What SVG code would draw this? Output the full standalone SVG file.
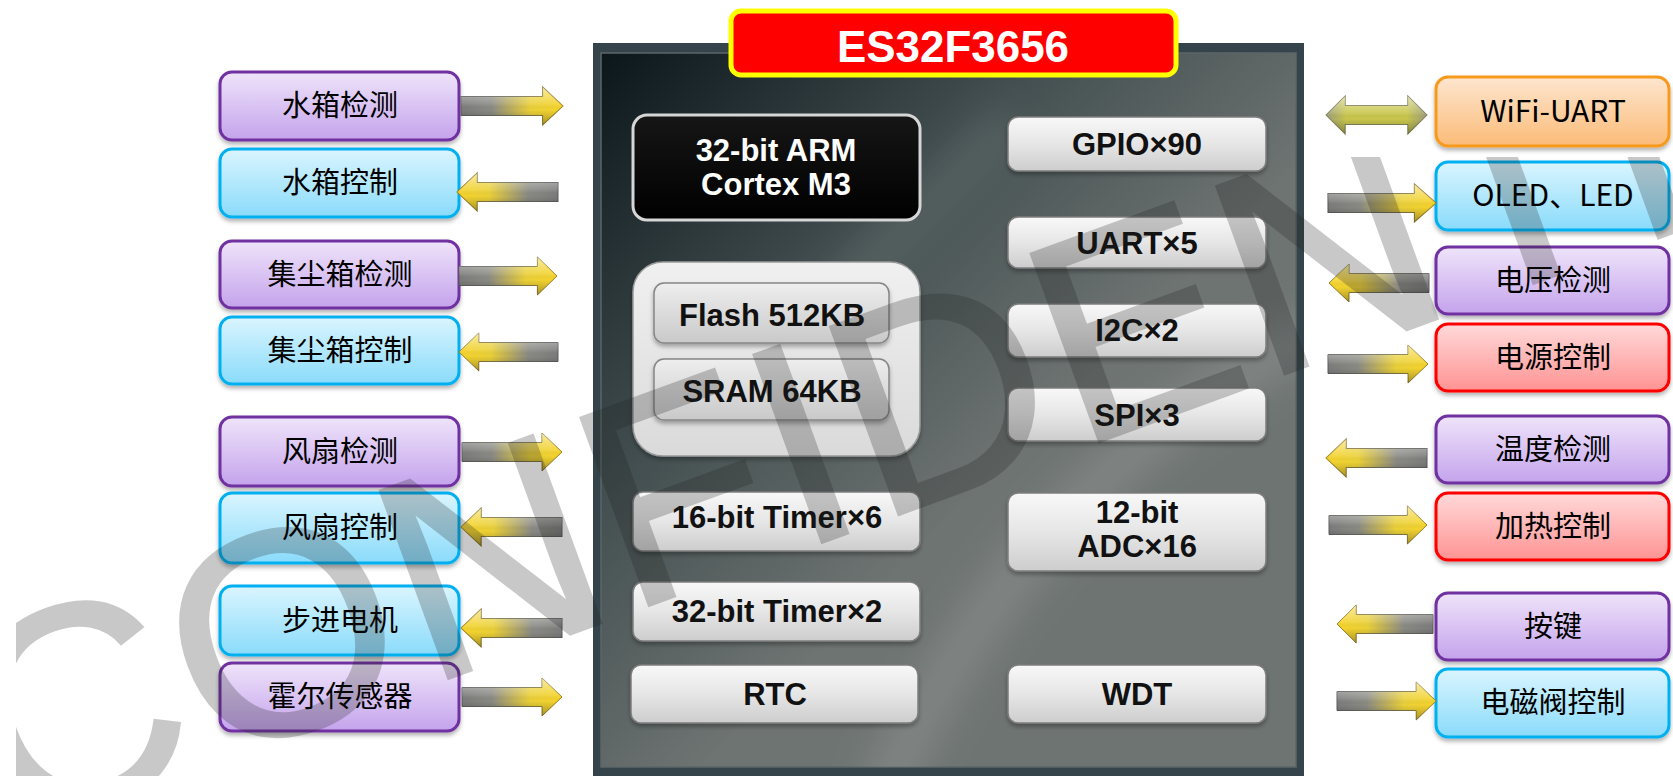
<svg xmlns="http://www.w3.org/2000/svg" width="1673" height="776" viewBox="0 0 1673 776">
<style>
.ext{font-family:"Noto Sans CJK SC","Noto Sans",sans-serif;font-size:29px;fill:#000;text-anchor:middle}
.chip{font-family:"Liberation Sans",Arial,sans-serif;font-weight:bold;font-size:31px;fill:#111;text-anchor:middle}
.white{fill:#fff}
.pu{fill:url(#gPu);stroke:#7030a0;stroke-width:3}
.bl{fill:url(#gBl);stroke:#00b0f0;stroke-width:3}
.or{fill:url(#gOr);stroke:#f79a1e;stroke-width:3}
.rd{fill:url(#gRd);stroke:#ff0000;stroke-width:3}
.btn{fill:url(#gBtn);stroke:#7d7d7d;stroke-width:1.5}
.mem{fill:url(#gMemIn);stroke:#858585;stroke-width:1.5}
</style>
<defs>
<linearGradient id="gPu" x1="0" y1="0" x2="0" y2="1"><stop offset="0" stop-color="#efe4fa"/><stop offset="1" stop-color="#c4a3ec"/></linearGradient>
<linearGradient id="gBl" x1="0" y1="0" x2="0" y2="1"><stop offset="0" stop-color="#daf5fe"/><stop offset="1" stop-color="#8adbfb"/></linearGradient>
<linearGradient id="gOr" x1="0" y1="0" x2="0" y2="1"><stop offset="0" stop-color="#fde6cf"/><stop offset="1" stop-color="#fbbb78"/></linearGradient>
<linearGradient id="gRd" x1="0" y1="0" x2="0" y2="1"><stop offset="0" stop-color="#ffd9d9"/><stop offset="1" stop-color="#ff9393"/></linearGradient>
<linearGradient id="gBtn" x1="0" y1="0" x2="0" y2="1"><stop offset="0" stop-color="#f8f8f8"/><stop offset="0.5" stop-color="#e6e6e6"/><stop offset="1" stop-color="#cdcdcd"/></linearGradient>
<linearGradient id="gMemOut" x1="0" y1="0" x2="0" y2="1"><stop offset="0" stop-color="#f0f0f0"/><stop offset="1" stop-color="#dadada"/></linearGradient>
<linearGradient id="gMemIn" x1="0" y1="0" x2="0" y2="1"><stop offset="0" stop-color="#eeeeee"/><stop offset="1" stop-color="#c9c9c9"/></linearGradient>
<linearGradient id="gArm" x1="0" y1="0" x2="0" y2="1"><stop offset="0" stop-color="#161616"/><stop offset="1" stop-color="#000"/></linearGradient>
<linearGradient id="gChip" gradientUnits="userSpaceOnUse" x1="600" y1="53" x2="1010" y2="460"><stop offset="0" stop-color="#0b161b"/><stop offset="0.55" stop-color="#434f50"/><stop offset="1" stop-color="#6e7472"/></linearGradient>
<linearGradient id="gAr" x1="0" y1="0" x2="1" y2="0"><stop offset="0" stop-color="#7b7b7b"/><stop offset="0.3" stop-color="#8a8a84"/><stop offset="0.68" stop-color="#ead038"/><stop offset="1" stop-color="#f7d42a"/></linearGradient>
<linearGradient id="gArS" x1="0" y1="0" x2="1" y2="0"><stop offset="0" stop-color="#5a5a5a"/><stop offset="0.5" stop-color="#6a6a5a"/><stop offset="1" stop-color="#a0821a"/></linearGradient>
<linearGradient id="gDbl" x1="0" y1="0" x2="1" y2="0"><stop offset="0" stop-color="#9c9c7a"/><stop offset="0.2" stop-color="#c8c64c"/><stop offset="0.8" stop-color="#c8c64c"/><stop offset="1" stop-color="#9c9c7a"/></linearGradient>
<linearGradient id="gBev" x1="0" y1="0" x2="0" y2="1"><stop offset="0" stop-color="#fff" stop-opacity="0.55"/><stop offset="0.45" stop-color="#fff" stop-opacity="0.1"/><stop offset="0.6" stop-color="#000" stop-opacity="0"/><stop offset="1" stop-color="#000" stop-opacity="0.3"/></linearGradient>
<path id="arR" d="M0,-9.5 H80 V-19 L100,0 L80,19 V9.5 H0 Z"/>
<path id="arD" d="M0,0 L19,-19 V-9.5 H81 V-19 L100,0 L81,19 V9.5 H19 V19 Z"/>
<g id="arrow"><use href="#arR" fill="url(#gAr)" stroke="url(#gArS)" stroke-width="1"/><use href="#arR" fill="url(#gBev)"/></g>
<filter id="sh" x="-10%" y="-20%" width="120%" height="150%"><feDropShadow dx="0" dy="3" stdDeviation="2" flood-color="#000" flood-opacity="0.3"/></filter>
<filter id="blur" x="-50%" y="-50%" width="200%" height="200%"><feGaussianBlur stdDeviation="18"/></filter>
<clipPath id="chipClip"><rect x="601" y="53" width="695" height="714"/></clipPath>
<clipPath id="wmClip"><rect x="16" y="157" width="1657" height="619"/></clipPath>
</defs>

<g id="chip">
<rect x="593" y="43" width="711" height="745" fill="#34444a"/>
<rect x="601" y="53" width="695" height="714" fill="url(#gChip)" stroke="#5c6669" stroke-width="1.5"/>
<g clip-path="url(#chipClip)" filter="url(#blur)">
<path d="M1320,330 Q1030,470 880,800" fill="none" stroke="#fff" stroke-opacity="0.12" stroke-width="50"/>
<path d="M830,300 L1010,120" fill="none" stroke="#fff" stroke-opacity="0.08" stroke-width="40"/>
</g>
</g>

<g id="title">
<rect x="731" y="11" width="445" height="64" rx="10" fill="#ff0000" stroke="#ffff00" stroke-width="5"/>
<text x="953" y="62" class="chip white" style="font-size:45px" textLength="232" lengthAdjust="spacingAndGlyphs">ES32F3656</text>
</g>

<g id="cpu"><rect x="633" y="115" width="287" height="105" rx="14" fill="url(#gArm)" stroke="#d6d6d6" stroke-width="3"/>
<text x="776" y="161" class="chip white">32-bit ARM</text><text x="776" y="195" class="chip white">Cortex M3</text></g>

<g id="memory"><rect x="633" y="262" width="287" height="194" rx="30" fill="url(#gMemOut)" stroke="#9a9a9a" stroke-width="1.5" filter="url(#sh)"/>
<g id="flash"><rect x="654" y="283" width="235" height="60" rx="10" class="mem" filter="url(#sh)"/><text x="772" y="326" class="chip">Flash 512KB</text></g>
<g id="sram"><rect x="654" y="359" width="235" height="61" rx="10" class="mem" filter="url(#sh)"/><text x="772" y="402" class="chip">SRAM 64KB</text></g>
</g>

<g id="timer16"><rect x="633" y="492" width="287" height="59" rx="10" class="btn" filter="url(#sh)"/><text x="777" y="528" class="chip">16-bit Timer×6</text></g>
<g id="timer32"><rect x="633" y="582" width="287" height="59" rx="10" class="btn" filter="url(#sh)"/><text x="777" y="622" class="chip">32-bit Timer×2</text></g>
<g id="rtc"><rect x="631" y="665" width="287" height="58" rx="10" class="btn" filter="url(#sh)"/><text x="775" y="705" class="chip">RTC</text></g>

<g id="gpio"><rect x="1008" y="117" width="258" height="54" rx="10" class="btn" filter="url(#sh)"/><text x="1137" y="155" class="chip">GPIO×90</text></g>
<g id="uart"><rect x="1008" y="217" width="258" height="51" rx="10" class="btn" filter="url(#sh)"/><text x="1137" y="254" class="chip">UART×5</text></g>
<g id="i2c"><rect x="1008" y="304" width="258" height="53" rx="10" class="btn" filter="url(#sh)"/><text x="1137" y="341" class="chip">I2C×2</text></g>
<g id="spi"><rect x="1008" y="388" width="258" height="53" rx="10" class="btn" filter="url(#sh)"/><text x="1137" y="426" class="chip">SPI×3</text></g>
<g id="adc"><rect x="1008" y="493" width="258" height="78" rx="10" class="btn" filter="url(#sh)"/><text x="1137" y="523" class="chip">12-bit</text><text x="1137" y="557" class="chip">ADC×16</text></g>
<g id="wdt"><rect x="1008" y="665" width="258" height="58" rx="10" class="btn" filter="url(#sh)"/><text x="1137" y="705" class="chip">WDT</text></g>

<g id="left-nodes">
<g id="n-water-detect"><rect x="220" y="72" width="239" height="68" rx="12" class="pu" filter="url(#sh)"/><text x="340" y="116" class="ext">水箱检测</text></g>
<g id="n-water-ctrl"><rect x="220" y="149" width="239" height="68" rx="12" class="bl" filter="url(#sh)"/><text x="340" y="193" class="ext">水箱控制</text></g>
<g id="n-dust-detect"><rect x="220" y="241" width="239" height="67" rx="12" class="pu" filter="url(#sh)"/><text x="340" y="285" class="ext">集尘箱检测</text></g>
<g id="n-dust-ctrl"><rect x="220" y="317" width="239" height="67" rx="12" class="bl" filter="url(#sh)"/><text x="340" y="361" class="ext">集尘箱控制</text></g>
<g id="n-fan-detect"><rect x="220" y="417" width="239" height="69" rx="12" class="pu" filter="url(#sh)"/><text x="340" y="462" class="ext">风扇检测</text></g>
<g id="n-fan-ctrl"><rect x="220" y="493" width="239" height="70" rx="12" class="bl" filter="url(#sh)"/><text x="340" y="538" class="ext">风扇控制</text></g>
<g id="n-stepper"><rect x="220" y="586" width="239" height="69" rx="12" class="bl" filter="url(#sh)"/><text x="340" y="631" class="ext">步进电机</text></g>
<g id="n-hall"><rect x="220" y="663" width="239" height="68" rx="12" class="pu" filter="url(#sh)"/><text x="340" y="707" class="ext">霍尔传感器</text></g>
</g>

<g id="right-nodes">
<g id="n-wifi"><rect x="1436" y="77" width="233" height="69" rx="12" class="or" filter="url(#sh)"/><text x="1553" y="122" class="ext" style="font-size:30px">WiFi-UART</text></g>
<g id="n-oled"><rect x="1436" y="162" width="233" height="68" rx="12" class="bl" filter="url(#sh)"/><text x="1553" y="206" class="ext" style="font-size:30px">OLED、LED</text></g>
<g id="n-volt"><rect x="1436" y="247" width="233" height="67" rx="12" class="pu" filter="url(#sh)"/><text x="1553" y="291" class="ext">电压检测</text></g>
<g id="n-power"><rect x="1436" y="324" width="233" height="67" rx="12" class="rd" filter="url(#sh)"/><text x="1553" y="368" class="ext">电源控制</text></g>
<g id="n-temp"><rect x="1436" y="416" width="233" height="67" rx="12" class="pu" filter="url(#sh)"/><text x="1553" y="460" class="ext">温度检测</text></g>
<g id="n-heat"><rect x="1436" y="493" width="233" height="67" rx="12" class="rd" filter="url(#sh)"/><text x="1553" y="537" class="ext">加热控制</text></g>
<g id="n-key"><rect x="1436" y="593" width="233" height="67" rx="12" class="pu" filter="url(#sh)"/><text x="1553" y="637" class="ext">按键</text></g>
<g id="n-valve"><rect x="1436" y="669" width="233" height="68" rx="12" class="bl" filter="url(#sh)"/><text x="1553" y="713" class="ext">电磁阀控制</text></g>
</g>

<g id="connectors">
<use href="#arrow" transform="translate(461,106) scale(1.02,1)"/>
<use href="#arrow" transform="translate(558,192) scale(-1.01,1)"/>
<use href="#arrow" transform="translate(459,276) scale(0.98,1)"/>
<use href="#arrow" transform="translate(558,352) scale(-0.99,1)"/>
<use href="#arrow" transform="translate(462,452) scale(1,1)"/>
<use href="#arrow" transform="translate(562,527) scale(-1.01,1)"/>
<use href="#arrow" transform="translate(562,628) scale(-1.01,1)"/>
<use href="#arrow" transform="translate(462,697) scale(1,1)"/>
<g transform="translate(1326,115) scale(1.01,1)"><use href="#arD" fill="url(#gDbl)" stroke="#7f7f5a" stroke-width="1"/><use href="#arD" fill="url(#gBev)"/></g>
<use href="#arrow" transform="translate(1328,203) scale(1.08,1)"/>
<use href="#arrow" transform="translate(1429,283) scale(-1,1)"/>
<use href="#arrow" transform="translate(1328,364) scale(1,1)"/>
<use href="#arrow" transform="translate(1427,458) scale(-1.01,1)"/>
<use href="#arrow" transform="translate(1329,525) scale(0.98,1)"/>
<use href="#arrow" transform="translate(1433,624) scale(-0.96,1)"/>
<use href="#arrow" transform="translate(1337,701) scale(0.99,1)"/>
</g>

<g id="watermark" clip-path="url(#wmClip)">
<g opacity="0.24">
<text x="10" y="838" transform="rotate(-20 10 838)" font-family="Liberation Sans, Arial, sans-serif" font-size="290" letter-spacing="4" fill="#202020" stroke="#202020" stroke-width="3">CONFIDENTIAL</text>
</g>
</g>
</svg>
